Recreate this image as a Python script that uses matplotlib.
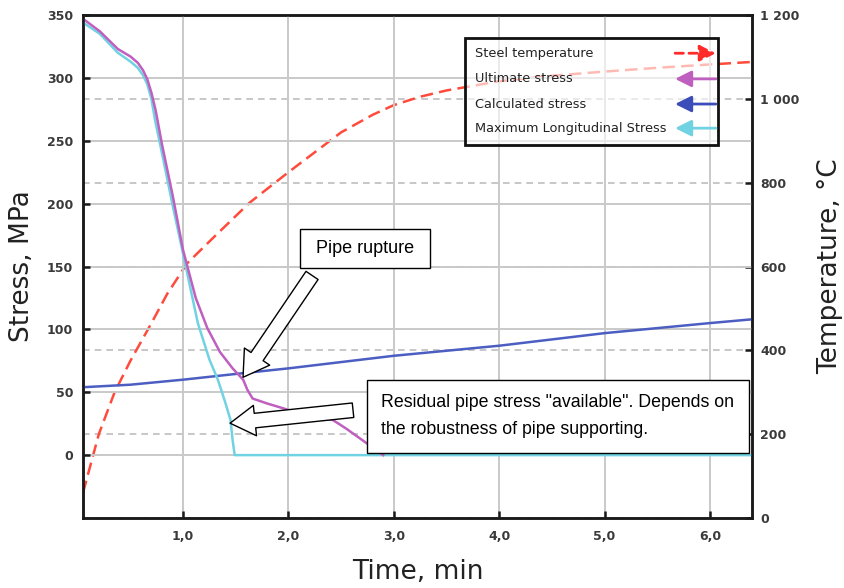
import matplotlib
matplotlib.use("Agg")
import matplotlib.pyplot as plt
from matplotlib.patches import Rectangle

# steel temperature (right axis, degC)
t_temp = [0.05, 0.2, 0.35, 0.5, 0.7, 0.85, 1.04, 1.3, 1.63, 2.0, 2.5, 2.8, 3.0, 3.25, 3.5, 4.0, 4.5, 5.0, 5.5, 6.0, 6.4]
temp = [60, 200, 300, 375, 465, 535, 608, 672, 752, 825, 920, 962, 985, 1005, 1020, 1042, 1055, 1065, 1074, 1082, 1088]

# ultimate stress (MPa)
t_ult = [0.05, 0.21, 0.38, 0.5, 0.57, 0.62, 0.66, 0.7, 0.74, 0.8, 0.9, 1.0, 1.12, 1.23, 1.35, 1.47, 1.57, 1.61,
         1.66, 1.8, 1.92, 2.23, 2.42, 2.55, 2.7, 2.85, 2.9]
s_ult = [347, 337, 323, 317, 312, 306, 299, 288, 274, 247, 207, 163, 125, 101, 82, 69, 60, 52,
         45, 41, 38, 30, 28, 21, 12, 3, 0]

# calculated stress (MPa)
t_calc = [0.05, 0.5, 1.0, 1.55, 2.0, 3.0, 4.0, 5.0, 6.0, 6.4]
s_calc = [54, 56, 60, 65, 69, 79, 87, 97, 105, 108]

# maximum longitudinal stress (MPa)
t_max = [0.05, 0.21, 0.38, 0.5, 0.57, 0.62, 0.66, 0.7, 0.735, 0.81, 0.9, 1.0, 1.14, 1.25, 1.33, 1.4, 1.45, 1.47, 1.49, 6.4]
s_max = [344, 335, 320, 313, 308, 302, 295, 283, 266, 236, 199, 160, 105, 76, 60, 42, 28, 12, 0, 0]

x_ticks = [1, 2, 3, 4, 5, 6]
x_labels = ["1,0", "2,0", "3,0", "4,0", "5,0", "6,0"]
s_ticks = [0, 50, 100, 150, 200, 250, 300, 350]
T_ticks = [0, 200, 400, 600, 800, 1000, 1200]
T_labels = ["0", "200", "400", "600", "800", "1 000", "1 200"]

legend_names = ["Steel temperature", "Ultimate stress", "Calculated stress",
                "Maximum Longitudinal Stress"]

RED = "#ff4b3c"
PURPLE = "#bf5fc0"
BLUE = "#4c5ec2"
CYAN = "#70d2e2"
TICKC = "#3a3a3a"

fig = plt.figure(figsize=(8.45, 5.88), dpi=100)
ax = fig.add_axes([83 / 845, 1 - 518 / 588, 669 / 845, 503 / 588])
ax2 = ax.twinx()
ax.set_zorder(ax2.get_zorder() + 1)
ax.patch.set_visible(False)

ax.set_xlim(0.05, 6.4)
ax.set_ylim(-50, 350)
ax2.set_ylim(0, 1200)

# grids
ax.set_xticks(x_ticks)
ax.set_xticklabels(x_labels)
ax.set_yticks(s_ticks)
ax2.set_yticks(T_ticks)
ax2.set_yticklabels(T_labels)
ax.grid(True, color="#c9c9c9", lw=1.4, ls="-")
ax2.grid(True, axis="y", color="#bdbdbd", lw=1.2, ls=(0, (4, 3)))
ax.set_axisbelow(True)

ax2.plot(t_temp, temp, color=RED, lw=1.8, ls=(0, (5, 2.5)))
ax.plot(t_calc, s_calc, color=BLUE, lw=1.8)
ax.plot(t_max, s_max, color=CYAN, lw=1.8)
ax.plot(t_ult, s_ult, color=PURPLE, lw=1.8)

for a in (ax, ax2):
    for sp in a.spines.values():
        sp.set_linewidth(1.8)
        sp.set_color("#1a1a1a")
    a.tick_params(direction="in", length=5, width=1.8, colors="#1a1a1a",
                  labelcolor=TICKC, labelsize=9)
    for lab in a.get_xticklabels() + a.get_yticklabels():
        lab.set_fontweight("bold")
ax.tick_params(axis="y", pad=7)
ax.tick_params(axis="x", pad=9)
ax2.tick_params(axis="y", pad=6)

ax.set_xlabel("Time, min", fontsize=19, color="#222222", va="center")
ax.xaxis.set_label_coords(0.5, -0.107)
ax.set_ylabel("Stress, MPa", fontsize=19, color="#222222", va="center")
ax.yaxis.set_label_coords(-0.091, 0.5)
ax2.set_ylabel("Temperature, °C", fontsize=19, color="#222222", rotation=90, va="center")
ax2.yaxis.set_label_coords(1.117, 0.5)

# annotation boxes and hollow arrows
note_font = ["Liberation Sans", "DejaVu Sans"]
ax.add_patch(Rectangle((2.11, 149), 1.23, 31, fc="white", ec="black", lw=1.0, zorder=6))
ax.text(2.725, 164.5, "Pipe rupture", fontsize=13, family=note_font,
        ha="center", va="center", zorder=7)
ax.add_patch(Rectangle((2.746, 1.6), 3.624, 57.9, fc="white", ec="black", lw=1.0, zorder=6))
ax.text(2.875, 42.1, "Residual pipe stress \"available\". Depends on",
        fontsize=12.8, family=note_font, ha="left", va="center", zorder=7)
ax.text(2.875, 20.6, "the robustness of pipe supporting.",
        fontsize=12.8, family=note_font, ha="left", va="center", zorder=7)

arrow_style = "simple,head_length=1.8,head_width=2.2,tail_width=1.05"
ax.annotate("", xy=(1.569, 61.9), xytext=(2.224, 142.9),
            arrowprops=dict(arrowstyle=arrow_style, fc="white", ec="black", lw=1.0,
                            shrinkA=0, shrinkB=0, mutation_scale=10), zorder=8)
ax.annotate("", xy=(1.446, 25.4), xytext=(2.613, 35.7),
            arrowprops=dict(arrowstyle=arrow_style, fc="white", ec="black", lw=1.0,
                            shrinkA=0, shrinkB=0, mutation_scale=10), zorder=8)

# legend drawn by hand: text on the left, arrow handles on the right
ax.add_patch(Rectangle((0.571, 0.742), 0.378, 0.212, transform=ax.transAxes,
                       fc=(1, 1, 1, 0.62), ec="#111111", lw=2.0, zorder=9))
rows = [0.924, 0.873, 0.823, 0.775]
handle_colors = ["#ff2a2a", PURPLE, "#3a4db8", CYAN]
for i, (name, y) in enumerate(zip(legend_names, rows)):
    ax.text(0.586, y, name, transform=ax.transAxes, fontsize=9.3, color="#222222",
            ha="left", va="center", zorder=10)
    if i == 0:
        start, end, ls = (0.885, y), (0.946, y), (0, (3, 2))
    else:
        start, end, ls = (0.946, y), (0.885, y), "-"
    ax.annotate("", xy=end, xytext=start, xycoords="axes fraction",
                textcoords="axes fraction",
                arrowprops=dict(arrowstyle="-|>,head_length=0.7,head_width=0.35",
                                color=handle_colors[i], lw=2.0, ls=ls,
                                shrinkA=0, shrinkB=0, mutation_scale=14), zorder=10)

fig.savefig("out.png", dpi=100)
